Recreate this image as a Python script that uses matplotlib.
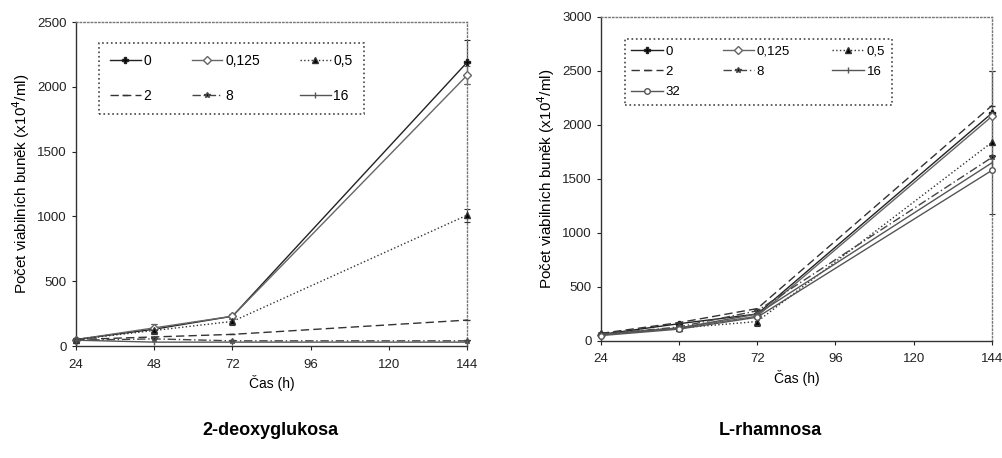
import numpy as np
import matplotlib.pyplot as plt

plt.rcParams['font.family'] = ['Liberation Sans', 'DejaVu Sans']

# * Data
hours = [24, 48, 72, 144]

deoxy_labels = ['0', '0,125', '0,5', '2', '8', '16']
deoxy_0 = [50, 130, 230, 2190]
deoxy_0125 = [50, 140, 230, 2090]
deoxy_05 = [50, 120, 190, 1010]
deoxy_2 = [50, 70, 90, 200]
deoxy_8 = [45, 55, 40, 40]
deoxy_16 = [45, 30, 30, 30]
deoxy_err_0 = [10, 40, 20, 170]
deoxy_err_0125 = [10, 30, 20, 70]
deoxy_err_05 = [10, 30, 30, 50]

rham_labels = ['0', '0,125', '0,5', '2', '8', '16', '32']
rham_0 = [60, 160, 250, 2110]
rham_0125 = [60, 120, 230, 2080]
rham_05 = [70, 120, 180, 1840]
rham_2 = [70, 170, 300, 2180]
rham_8 = [60, 130, 280, 1700]
rham_16 = [60, 120, 250, 1650]
rham_32 = [50, 110, 220, 1580]
rham_err_0 = [15, 20, 40, 390]
rham_err_05 = [15, 20, 40, 660]

# * Styles: (linestyle, marker, markerfacecolor, color)
styles = {
    '0': ('-', 'P', 'black', '#222222'),
    '0,125': ('-', 'D', 'white', '#666666'),
    '0,5': (':', '^', 'black', '#333333'),
    '2': ((0, (6, 3)), '_', 'black', '#333333'),
    '8': ((0, (6, 2, 1, 2)), '*', 'black', '#444444'),
    '16': ('-', '|', 'black', '#555555'),
    '32': ('-', 'o', 'white', '#555555'),
}

fig = plt.figure(figsize=(10.03, 4.58), dpi=100)
ax1 = fig.add_axes([0.0758, 0.2445, 0.390, 0.7074])
ax2 = fig.add_axes([0.599, 0.2555, 0.390, 0.7074])


def draw_series(ax, label, values, err=None):
    ls, mk, mfc, col = styles[label]
    ax.plot(hours, values, linestyle=ls, marker=mk, markersize=4,
            markerfacecolor=mfc, markeredgecolor=col, color=col,
            linewidth=1.0, label=label, clip_on=False, zorder=3)
    if err is not None:
        ax.errorbar(hours, values, yerr=err, fmt='none', ecolor=col,
                    elinewidth=0.8, capsize=2.5, capthick=0.8, clip_on=False)


def style_axes(ax, ymax):
    ax.set_xlim(24, 144)
    ax.set_ylim(0, ymax)
    ax.set_xticks([24, 48, 72, 96, 120, 144])
    ax.set_yticks(np.arange(0, ymax + 1, 500))
    ax.tick_params(labelsize=9.5, length=3, width=0.8, colors='#222222')
    ax.tick_params(axis='x', pad=6)
    ax.set_xlabel('Čas (h)', fontsize=10, labelpad=3)
    ax.set_ylabel('Počet viabilních buněk (x10$^4$/ml)', fontsize=11, labelpad=4)
    for side in ['top', 'right']:
        ax.spines[side].set_linestyle(':')
        ax.spines[side].set_color('#777777')
        ax.spines[side].set_linewidth(1.0)
    for side in ['left', 'bottom']:
        ax.spines[side].set_color('#333333')
        ax.spines[side].set_linewidth(1.0)


def reorder(handles, labels, ncol):
    # legend reads row by row like the original
    nrows = int(np.ceil(len(handles) / ncol))
    idx = []
    for c in range(ncol):
        for r in range(nrows):
            i = r * ncol + c
            if i < len(handles):
                idx.append(i)
    return [handles[i] for i in idx], [labels[i] for i in idx]


# * Left: 2-deoxyglukosa
draw_series(ax1, '0', deoxy_0, deoxy_err_0)
draw_series(ax1, '0,125', deoxy_0125, deoxy_err_0125)
draw_series(ax1, '0,5', deoxy_05, deoxy_err_05)
draw_series(ax1, '2', deoxy_2)
draw_series(ax1, '8', deoxy_8)
draw_series(ax1, '16', deoxy_16)
style_axes(ax1, 2500)

h, l = ax1.get_legend_handles_labels()
h, l = reorder(h, l, 3)
leg = ax1.legend(h, l, ncol=3, loc='upper left', bbox_to_anchor=(0.059, 0.935),
                 fontsize=10, labelspacing=1.5, columnspacing=2.9,
                 handlelength=2.2, handletextpad=0.2, borderpad=0.8,
                 fancybox=False, framealpha=1, borderaxespad=0)
leg.get_frame().set_edgecolor('#444444')
leg.get_frame().set_linestyle(':')
leg.get_frame().set_linewidth(1.2)

# * Right: L-rhamnosa
draw_series(ax2, '0', rham_0, rham_err_0)
draw_series(ax2, '0,125', rham_0125)
draw_series(ax2, '0,5', rham_05, rham_err_05)
draw_series(ax2, '2', rham_2)
draw_series(ax2, '8', rham_8)
draw_series(ax2, '16', rham_16)
draw_series(ax2, '32', rham_32)
style_axes(ax2, 3000)

h, l = ax2.get_legend_handles_labels()
h, l = reorder(h, l, 3)
leg = ax2.legend(h, l, ncol=3, loc='upper left', bbox_to_anchor=(0.061, 0.932),
                 fontsize=9.5, labelspacing=0.6, columnspacing=3.2,
                 handlelength=2.4, handletextpad=0.2, borderpad=0.5,
                 fancybox=False, framealpha=1, borderaxespad=0)
leg.get_frame().set_edgecolor('#444444')
leg.get_frame().set_linestyle(':')
leg.get_frame().set_linewidth(1.2)

# * Panel titles
fig.text(0.270, 0.060, '2-deoxyglukosa', fontsize=13, fontweight='bold',
         ha='center', va='center')
fig.text(0.768, 0.060, 'L-rhamnosa', fontsize=13, fontweight='bold',
         ha='center', va='center')

fig.savefig('out.png', dpi=100)
